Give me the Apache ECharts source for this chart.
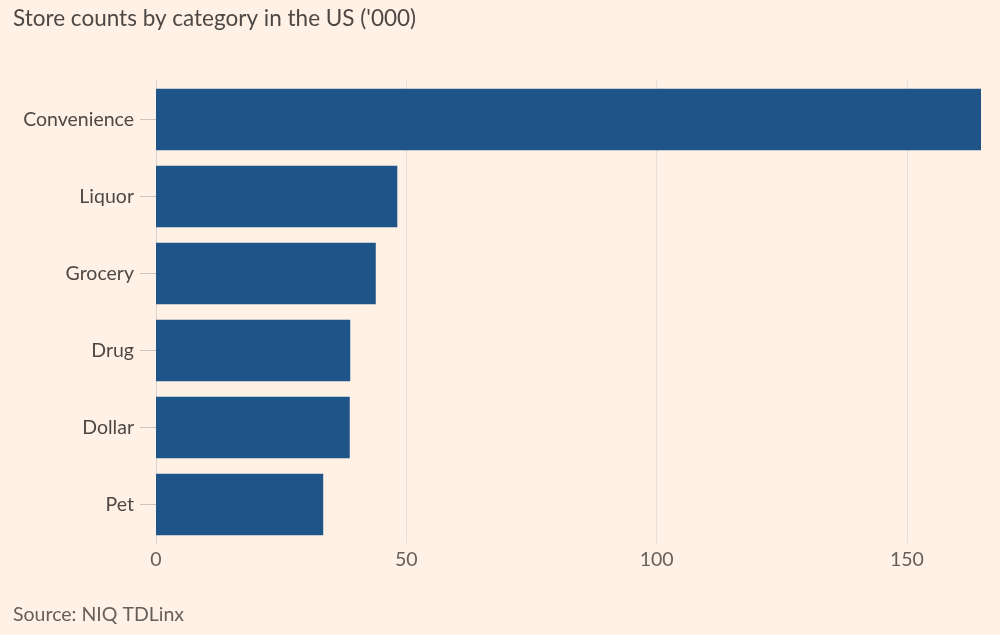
<!DOCTYPE html>
<html>
<head>
<meta charset="utf-8">
<script src="https://cdn.jsdelivr.net/npm/echarts@6/dist/echarts.min.js"></script>
<style>
html,body{margin:0;padding:0;background:#FFF1E5;}
#c{width:1000px;height:635px;}
</style>
</head>
<body>
<div id="c"></div>
<script>
const categories = ["Convenience", "Liquor", "Grocery", "Drug", "Dollar", "Pet"];
const storeCounts = [164.8, 48.2, 43.9, 38.8, 38.7, 33.4];
const xTicks = [0, 50, 100, 150];

const chart = echarts.init(document.getElementById('c'), null, {renderer: 'canvas'});
const font = 'Lato, "Open Sans", sans-serif';
const grid = '#E9DED5';
chart.setOption({
  backgroundColor: '#FFF1E5',
  animation: false,
  title: [
    {text: "Store counts by category in the US ('000)", left: 8, top: 2,
     textStyle: {fontFamily: font, fontSize: 22.5, fontWeight: 'normal', color: '#4d4845'}},
    {text: 'Source: NIQ TDLinx', left: 8, top: 600,
     textStyle: {fontFamily: font, fontSize: 19.5, fontWeight: 'normal', color: '#66605C'}}
  ],
  grid: {left: 156, right: 18, top: 81, bottom: 92, containLabel: false},
  xAxis: {
    type: 'value', min: 0, max: 165, interval: 50,
    axisLine: {show: false}, axisTick: {show: false},
    splitLine: {show: true, lineStyle: {color: [grid, grid, grid, grid, 'rgba(0,0,0,0)'], width: 1}},
    axisLabel: {fontFamily: font, fontSize: 19.5, color: '#66605C', margin: 7,
      formatter: v => xTicks.includes(v) ? String(v) : ''}
  },
  yAxis: {
    type: 'category', data: categories, inverse: true,
    axisLine: {show: true, lineStyle: {color: '#DDD2C9', width: 1}},
    axisTick: {show: true, alignWithLabel: true, length: 16, lineStyle: {color: '#CFC4BB'}},
    axisLabel: {fontFamily: font, fontSize: 19.5, color: '#4d4845', margin: 22}
  },
  series: [{
    type: 'bar', data: storeCounts, barCategoryGap: '20%',
    itemStyle: {color: '#1F5489'}
  }]
});
</script>
</body>
</html>
